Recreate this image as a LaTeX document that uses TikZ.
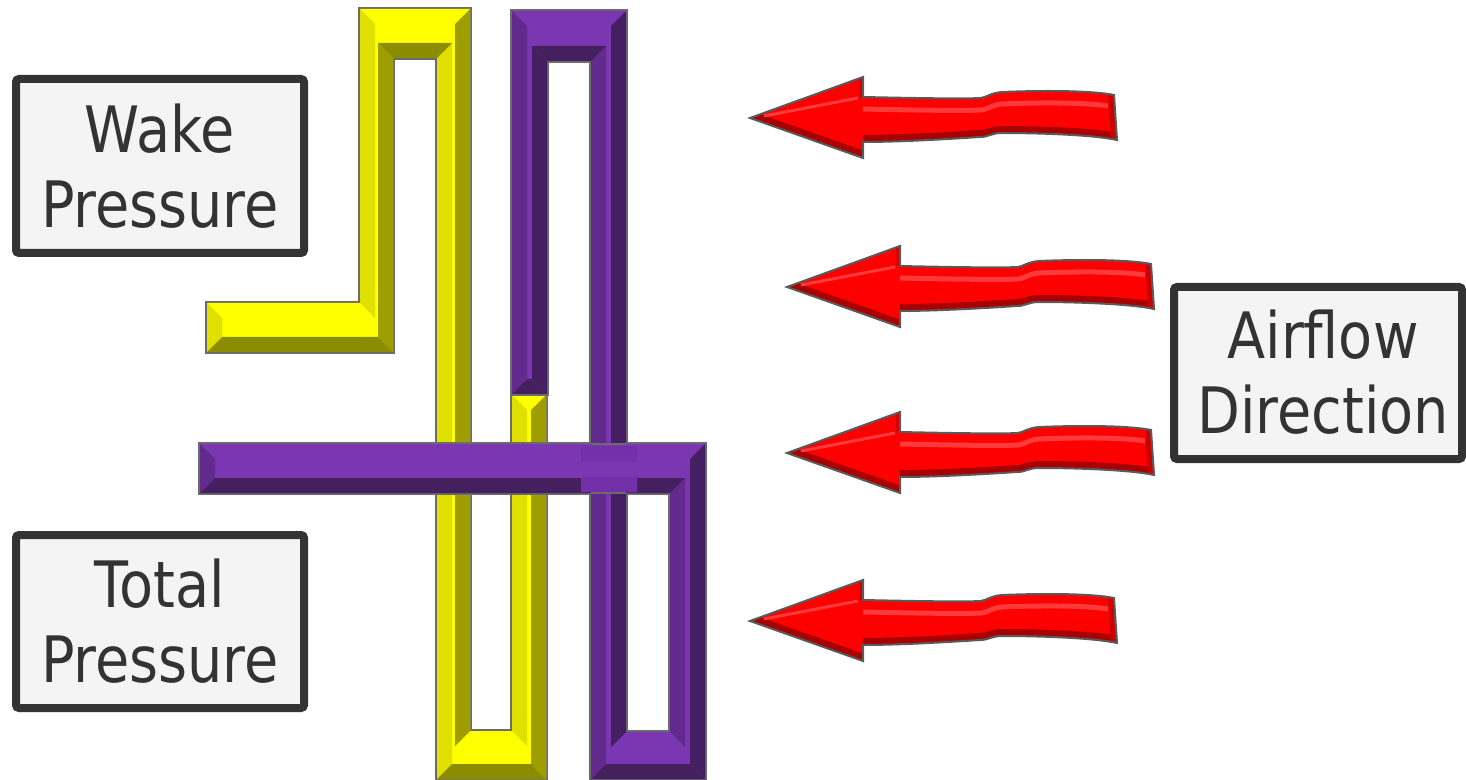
\documentclass[tikz,border=0pt]{standalone}
\usepackage{fontspec}
\usetikzlibrary{calc}
\newfontfamily\labelfont[FakeStretch=0.87]{DejaVu Sans}

% colours
\definecolor{tubeyellow}{HTML}{FFFF00}
\definecolor{yellowleft}{HTML}{E0E000}
\definecolor{yellowright}{HTML}{9E9E00}
\definecolor{yellowbottom}{HTML}{8C8C00}
\definecolor{tubepurple}{HTML}{7B36B2}
\definecolor{purpleleft}{HTML}{632A8E}
\definecolor{purpleright}{HTML}{461F62}
\definecolor{purplebottom}{HTML}{44215E}
\definecolor{purplepatch}{HTML}{7330A8}
\definecolor{tubeedge}{HTML}{6B6B6B}
\definecolor{boxedge}{HTML}{333333}
\definecolor{boxfill}{HTML}{F4F4F4}
\definecolor{flowred}{HTML}{FF0000}
\definecolor{flowdark}{HTML}{A80000}
\definecolor{flowlight}{HTML}{FF3A3A}
\definecolor{flowedge}{HTML}{5A5A5A}

% tube pieces (pixel units, y down)
\newcommand{\yellowparts}{(207,303) rectangle (393,352)
  (360,9) rectangle (393,352) (360,9) rectangle (470,58)
  (437,9) rectangle (470,779) (437,731) rectangle (546,779)
  (512,395) rectangle (546,779)}
\newcommand{\purpleparts}{(512,11) rectangle (547,394)
  (512,11) rectangle (626,61) (591,11) rectangle (626,779)
  (591,732) rectangle (705,779) (670,444) rectangle (705,779)
  (200,444) rectangle (705,493)}

% wavy arrow outline, tip at the origin
\newcommand{\flowpath}{(0,0) -- (113,-41) -- (113,-21)
  .. controls (160,-20) and (215,-19) .. (230,-20)
  .. controls (238,-21) and (240,-25) .. (252,-26)
  .. controls (300,-28) and (345,-27) .. (364,-23)
  -- (367,22)
  .. controls (345,17) and (290,15) .. (252,15)
  .. controls (241,15) and (239,19) .. (230,19)
  .. controls (200,21) and (150,24) .. (113,24)
  -- (113,40) -- cycle}

\tikzset{
  labelbox/.style={draw=boxedge, line width=4pt, fill=boxfill,
    rounded corners=1.5pt, minimum width=144pt, minimum height=87pt},
  labeltext/.style={text=boxedge, align=center, inner sep=0pt,
    font=\labelfont\fontsize{32pt}{37.5pt}\selectfont},
  tube edge/.style={draw=tubeedge, line width=2pt},
  flow arrow/.pic={
    \fill[flowred] \flowpath;
    \begin{scope}
      \clip \flowpath;
      \draw[flowdark, line width=7pt] (0,0) -- (113,40);
      \draw[flowdark, line width=7pt] (113,24)
        .. controls (150,24) and (200,21) .. (230,19)
        .. controls (239,19) and (241,15) .. (252,15)
        .. controls (290,15) and (345,17) .. (367,22);
      \draw[flowdark!60!flowred, line width=6pt] (364,-23) -- (367,22);
      \draw[flowdark!50!flowred, line width=4pt] (113,-41) -- (113,-21);
      \draw[flowlight, line width=2.5pt] (113,-9)
        .. controls (160,-8) and (215,-7) .. (231,-8)
        .. controls (239,-9) and (241,-13) .. (252,-14)
        .. controls (300,-16) and (340,-15) .. (358,-12);
      \draw[flowlight, line width=1.5pt] (14,-2) -- (108,-20);
    \end{scope}
    \draw[flowedge, line width=1pt] \flowpath;
  }
}

\begin{document}
\begin{tikzpicture}[x=0.5pt, y=-0.5pt]
  \useasboundingbox (0,0) rectangle (1466,780);

  % Yellow tube
  \draw[tube edge] \yellowparts;
  \fill[tubeyellow] \yellowparts;
  \fill[yellowleft] (360,303) -- (360,9) -- (375,24) -- (375,318) -- cycle
    (512,731) -- (512,395) -- (527,410) -- (527,746) -- cycle
    (437,779) -- (437,58) -- (452,43) -- (452,764) -- cycle
    (207,352) -- (207,303) -- (222,318) -- (222,337) -- cycle;
  \fill[yellowright] (470,9) -- (470,731) -- (455,746) -- (455,24) -- cycle
    (546,395) -- (546,779) -- (531,764) -- (531,410) -- cycle
    (393,58) -- (393,352) -- (378,337) -- (378,43) -- cycle;
  \fill[yellowbottom] (546,779) -- (437,779) -- (452,764) -- (531,764) -- cycle
    (437,58) -- (393,58) -- (378,43) -- (452,43) -- cycle
    (393,352) -- (207,352) -- (222,337) -- (378,337) -- cycle;

  % Purple tube
  \draw[tube edge] \purpleparts;
  \fill[tubepurple] \purpleparts;
  \fill[purpleleft] (512,394) -- (512,11) -- (527,26) -- (527,379) -- cycle
    (591,444) -- (591,61) -- (606,46) -- (606,444) -- cycle
    (591,493) -- (591,779) -- (606,764) -- (606,493) -- cycle
    (200,444) -- (200,493) -- (215,478) -- (215,459) -- cycle
    (670,493) -- (670,732) -- (685,747) -- (685,478) -- cycle;
  \fill[purpleright] (626,11) -- (626,444) -- (611,444) -- (611,26) -- cycle
    (547,61) -- (547,394) -- (532,379) -- (532,46) -- cycle
    (626,493) -- (626,732) -- (611,747) -- (611,493) -- cycle
    (705,779) -- (705,444) -- (690,459) -- (690,764) -- cycle;
  \fill[purplebottom] (591,61) -- (547,61) -- (532,46) -- (606,46) -- cycle
    (547,394) -- (512,394) -- (527,379) -- (532,379) -- cycle
    (591,779) -- (705,779) -- (690,764) -- (606,764) -- cycle
    (200,493) -- (670,493) -- (685,478) -- (215,478) -- cycle;
  % where the bar passes over its own riser
  \fill[purplepatch] (581,446) rectangle (637,462) (581,477) rectangle (637,492);
  \draw[tubeedge, line width=0.6pt] (591,444) -- (626,444) (591,493) -- (626,493);

  % Airflow arrows
  \pic (flow1) at (750,118) {flow arrow};
  \pic (flow2) at (787,287) {flow arrow};
  \pic (flow3) at (787,453) {flow arrow};
  \pic (flow4) at (750,621) {flow arrow};

  % Labels
  \node[labelbox] (wake) at (160,166) {};
  \node[labeltext] (wake text) at (wake) {Wake\\Pressure};
  \node[labelbox, minimum height=86.5pt] (total) at (160,621.5) {};
  \node[labeltext] (total text) at (total) {Total\\Pressure};
  \node[labelbox, minimum height=86pt] (airflow) at (1318,373) {};
  \node[labeltext] (airflow text) at ($(airflow)+(5,-1)$) {Airflow\\Direction};
\end{tikzpicture}
\end{document}
